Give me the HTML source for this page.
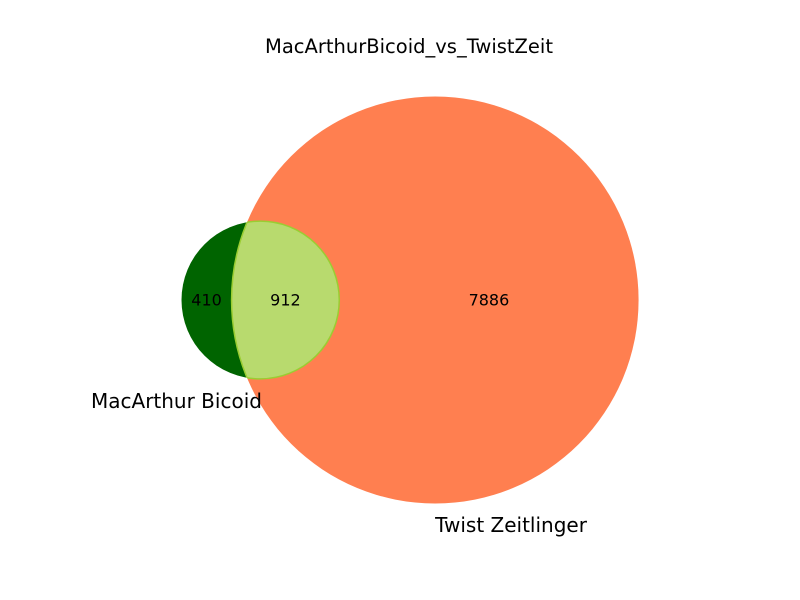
<!DOCTYPE html>
<html><head><meta charset="utf-8"><style>
body{margin:0;background:#fff}
svg{display:block;font-family:"DejaVu Sans","Liberation Sans",sans-serif}
</style></head><body>
<svg id="chart" width="800" height="600" viewBox="0 0 800 600">
<text x="409" y="53" font-size="19.5" text-anchor="middle">MacArthurBicoid_vs_TwistZeit</text>
<g id="g"></g>
</svg>
<script>
const setNames = ["MacArthur Bicoid", "Twist Zeitlinger"];
const regionCounts = [410, 912, 7886]; // A only, A&B, B only
const NS = "http://www.w3.org/2000/svg";
const g = document.getElementById('g');
function mk(t, a){const e=document.createElementNS(NS,t);for(const k in a)e.setAttribute(k,a[k]);g.appendChild(e);return e;}
const areaA = regionCounts[0]+regionCounts[1], areaB = regionCounts[1]+regionCounts[2];
const k = 203.5/Math.sqrt(areaB);
const rA = k*Math.sqrt(areaA), rB = k*Math.sqrt(areaB);
function lens(d){
  if(d>=rA+rB) return 0;
  if(d<=Math.abs(rB-rA)) return Math.PI*Math.min(rA,rB)**2;
  const a=Math.acos((d*d+rA*rA-rB*rB)/(2*d*rA)), b=Math.acos((d*d+rB*rB-rA*rA)/(2*d*rB));
  return rA*rA*(a-Math.sin(2*a)/2)+rB*rB*(b-Math.sin(2*b)/2);
}
const target = regionCounts[1]*k*k*Math.PI;
let lo=Math.abs(rB-rA), hi=rA+rB;
for(let i=0;i<60;i++){const m=(lo+hi)/2; if(lens(m)>target) lo=m; else hi=m;}
const d=(lo+hi)/2;
const cy=300, left=181.5;
const cxA=left+rA, cxB=cxA+d;
const defs=mk('defs',{});
const cp=document.createElementNS(NS,'clipPath');cp.setAttribute('id','clipA');defs.appendChild(cp);
const cc=document.createElementNS(NS,'circle');cc.setAttribute('cx',cxA);cc.setAttribute('cy',cy);cc.setAttribute('r',rA);cp.appendChild(cc);
const cp2=document.createElementNS(NS,'clipPath');cp2.setAttribute('id','clipB');defs.appendChild(cp2);
const cc2=document.createElementNS(NS,'circle');cc2.setAttribute('cx',cxB);cc2.setAttribute('cy',cy);cc2.setAttribute('r',rB);cp2.appendChild(cc2);
let e;
e=mk('circle',{cx:cxA,cy:cy,r:rA,fill:'#006400'});


e=mk('circle',{cx:cxB,cy:cy,r:rB,fill:'#ff7f50'});


e=mk('circle',{cx:cxB,cy:cy,r:rB,fill:'#b8da6e','clip-path':'url(#clipA)'});


e=mk('circle',{cx:cxA,cy:cy,r:rA,fill:'none',stroke:'#9acd32','stroke-width':1.5,'clip-path':'url(#clipB)'});


e=mk('circle',{cx:cxB,cy:cy,r:rB,fill:'none',stroke:'#9acd32','stroke-width':1.5,'clip-path':'url(#clipA)'});


const aL=cxA-rA, aR=cxA+rA, bL=cxB-rB, bR=cxB+rB;
const lx=[(aL+bL)/2,(bL+aR)/2,(aR+bR)/2];
const names=['count-a-only','count-intersection','count-b-only'];
for(let i=0;i<3;i++){
  e=mk('text',{x:lx[i],y:cy+5.5,'font-size':16,'text-anchor':'middle',fill:'#000'});
  e.textContent=regionCounts[i];
  
  
}
e=mk('text',{x:91,y:408,'font-size':20,'text-anchor':'start'});
e.textContent=setNames[0];


e=mk('text',{x:cxB,y:532,'font-size':20,'text-anchor':'start'});
e.textContent=setNames[1];


</script>
</body></html>
